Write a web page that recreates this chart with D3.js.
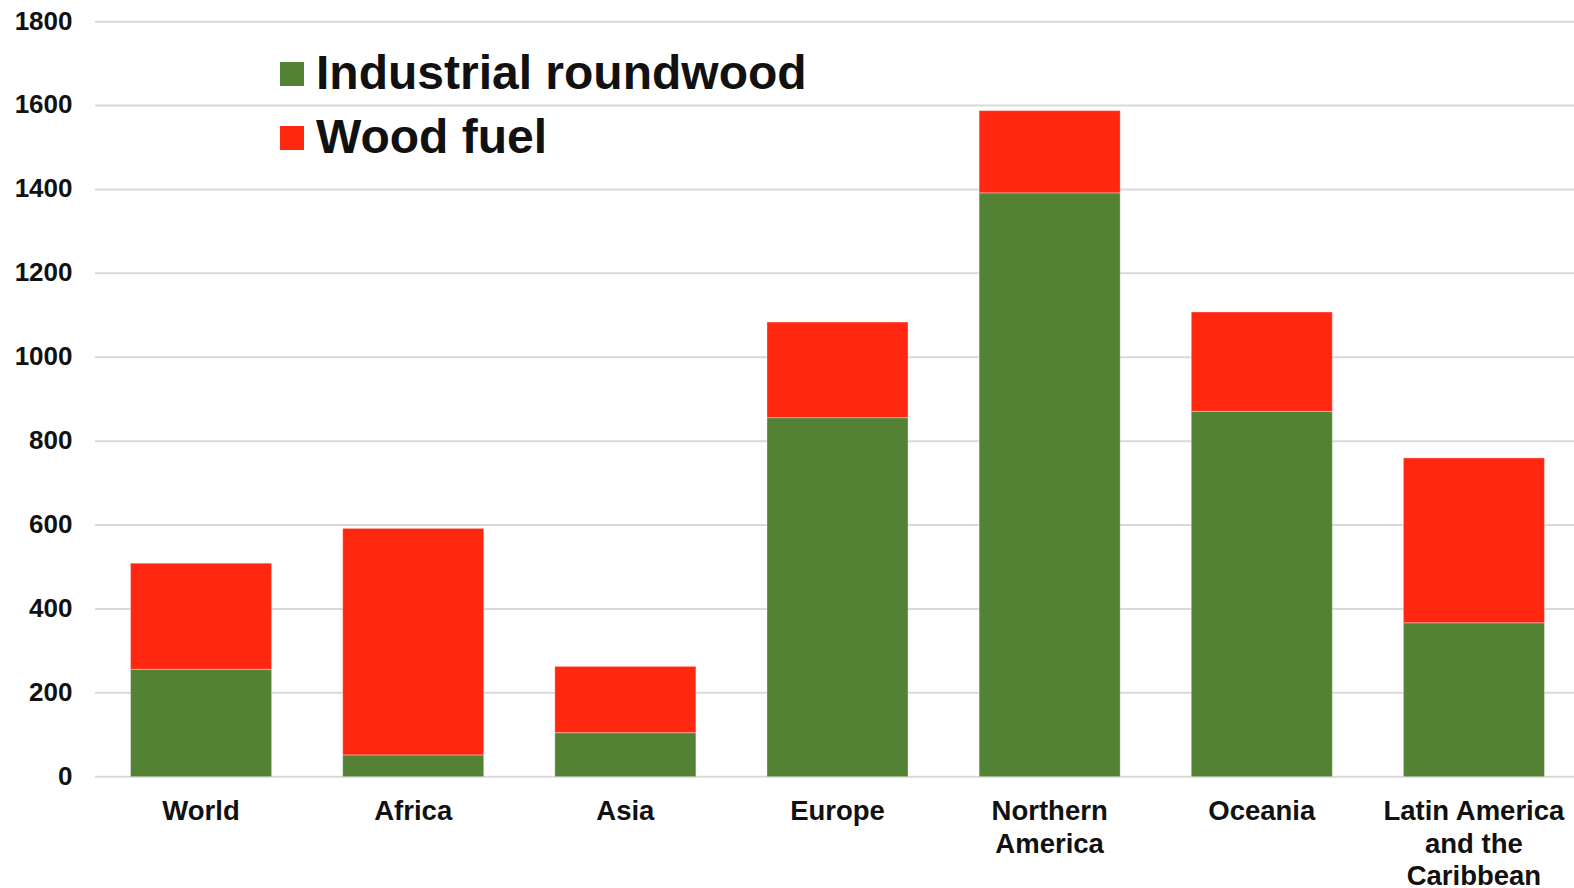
<!DOCTYPE html>
<html>
<head>
<meta charset="utf-8">
<script src="https://cdn.jsdelivr.net/npm/d3@7"></script>
<style>
  html, body { margin: 0; padding: 0; background: #fff; }
  svg { display: block; font-family: "Liberation Sans", Arial, sans-serif; font-weight: bold; }
</style>
</head>
<body>
<svg id="chart" width="1574" height="888"></svg>
<script>
// Data
const categories = [
  ['World'], ['Africa'], ['Asia'], ['Europe'],
  ['Northern', 'America'], ['Oceania'], ['Latin America', 'and the', 'Caribbean']
];
const industrialRoundwood = [256, 52, 105, 856, 1392, 871, 367];
const woodFuel = [253, 540, 158, 228, 196, 237, 393];
const yTicks = [0, 200, 400, 600, 800, 1000, 1200, 1400, 1600, 1800];
const seriesNames = ['Industrial roundwood', 'Wood fuel'];
const seriesColors = ['#548235', '#ff2710'];

const svg = d3.select('#chart');
const plotLeft = 95, plotRight = 1580, plotTop = 21.7, plotBottom = 776.7;

const x = d3.scaleBand()
  .domain(categories.map((d, i) => i))
  .range([plotLeft, plotRight])
  .paddingInner(0.335)
  .paddingOuter(0.1675);

const y = d3.scaleLinear().domain([0, 1800]).range([plotBottom, plotTop]);

// gridlines
svg.append('g')
  .selectAll('line')
  .data(yTicks)
  .join('line')
  .attr('x1', plotLeft).attr('x2', 1574)
  .attr('y1', d => y(d)).attr('y2', d => y(d))
  .attr('stroke', '#d9d9d9')
  .attr('stroke-width', 2);

// y tick labels
svg.append('g')
  .selectAll('text')
  .data(yTicks)
  .join('text')
  .attr('x', 72.5)
  .attr('y', d => y(d))
  .attr('dy', '0.3em')
  .attr('text-anchor', 'end')
  .attr('font-size', 26)
  .attr('fill', '#111')
  .text(d => d);

// stacked bars
const rows = categories.map((c, i) => ({ i, ind: industrialRoundwood[i], fuel: woodFuel[i] }));
const stacked = d3.stack().keys(['ind', 'fuel'])(rows);

svg.append('g')
  .selectAll('g')
  .data(stacked)
  .join('g')
  .attr('fill', (d, k) => seriesColors[k])
  .selectAll('rect')
  .data(d => d)
  .join('rect')
  .attr('x', d => x(d.data.i))
  .attr('width', x.bandwidth())
  .attr('y', d => y(d[1]))
  .attr('height', d => y(d[0]) - y(d[1]))
  .attr('stroke', '#fff')
  .attr('stroke-opacity', 0.35)
  .attr('stroke-width', 1);

// category labels
const cat = svg.append('g')
  .selectAll('text')
  .data(categories)
  .join('text')
  .attr('x', (d, i) => x(i) + x.bandwidth() / 2)
  .attr('y', 820)
  .attr('text-anchor', 'middle')
  .attr('font-size', 27.5)
  .attr('fill', '#111');

cat.selectAll('tspan')
  .data(d => d)
  .join('tspan')
  .attr('x', function () { return d3.select(this.parentNode).attr('x'); })
  .attr('dy', (d, j) => j === 0 ? 0 : 32.5)
  .text(d => d);

// legend
const legend = svg.append('g')
  .selectAll('g')
  .data(seriesNames)
  .join('g')
  .attr('transform', (d, k) => `translate(280, ${62 + k * 64})`);

legend.append('rect')
  .attr('width', 24).attr('height', 24)
  .attr('fill', (d, k) => seriesColors[k]);

legend.append('text')
  .attr('x', 36)
  .attr('y', 27)
  .attr('font-size', 48)
  .attr('fill', '#111')
  .text(d => d);
</script>
</body>
</html>
